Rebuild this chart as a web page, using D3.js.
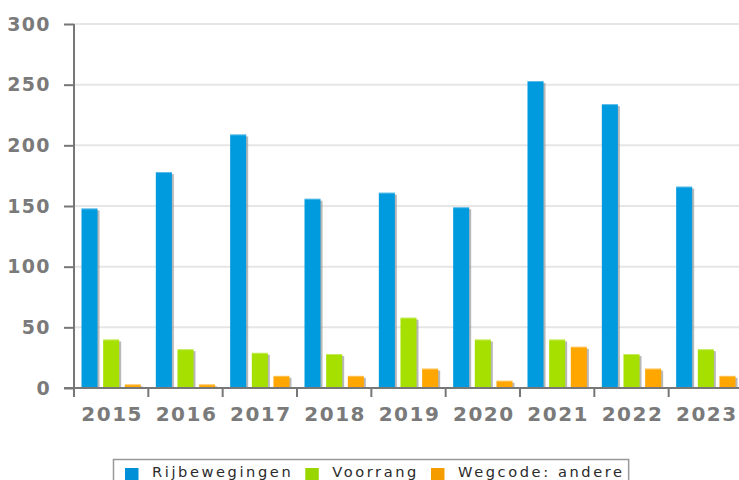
<!DOCTYPE html>
<html><head><meta charset="utf-8">
<script src="https://cdn.jsdelivr.net/npm/d3@7"></script>
<style>html,body{margin:0;padding:0;background:#fff;overflow:hidden}</style>
</head><body>
<svg id="c" width="739" height="480"></svg>
<script>
const categories = ["2015","2016","2017","2018","2019","2020","2021","2022","2023"];
const seriesNames = ["Rijbewegingen","Voorrang","Wegcode: andere"];
const rijbewegingen = [148,178,209,156,161,149,253,234,166];
const voorrang = [40,32,29,28,58,40,40,28,32];
const wegcodeAndere = [3,3,10,10,16,6,34,16,10];
const yTicks = [0,50,100,150,200,250,300];
const colors = ["#009ade","#a6e000","#ffa600"];
const legendColors = ["#0090d8","#99d600","#f59c00"];

(function(){
const series = [rijbewegingen, voorrang, wegcodeAndere];
const svg = d3.select("#c");
const pLeft = 74, pRight = 743, pTop = 24, pBottom = 388;
const x = d3.scaleBand().domain(categories).range([pLeft, pRight]).paddingInner(0).paddingOuter(0);
const x1 = d3.scaleBand().domain(d3.range(3)).range([7.5, x.bandwidth()-7.5]).paddingInner(0.26);
const y = d3.scaleLinear().domain([0,300]).range([pBottom, pTop]);

// gridlines
svg.append("g").selectAll("line").data(yTicks.filter(d=>d>0)).join("line")
  .attr("x1", pLeft).attr("x2", 739).attr("y1", d=>y(d)).attr("y2", d=>y(d))
  .attr("stroke", "#e6e6e6").attr("stroke-width", 2);

// bars
const g = svg.append("g");
series.forEach((vals, si) => {
  const sg = g.append("g");
  sg.selectAll("rect.s").data(vals).join("rect").attr("class","s")
    .attr("x", (d,i)=>x(categories[i]) + x1(si) + 2)
    .attr("y", d=>y(d)+2)
    .attr("width", x1.bandwidth())
    .attr("height", d=>pBottom - y(d) - 2)
    .attr("fill", "#9a9a9a").attr("opacity", 0.7);
  sg.selectAll("rect.b").data(vals).join("rect").attr("class","b")
    .attr("x", (d,i)=>x(categories[i]) + x1(si))
    .attr("y", d=>y(d))
    .attr("width", x1.bandwidth())
    .attr("height", d=>pBottom - y(d))
    .attr("fill", colors[si]);
  sg.selectAll("line.t").data(vals).join("line").attr("class","t")
    .attr("x1", (d,i)=>x(categories[i]) + x1(si))
    .attr("x2", (d,i)=>x(categories[i]) + x1(si) + x1.bandwidth())
    .attr("y1", d=>y(d)+0.5).attr("y2", d=>y(d)+0.5)
    .attr("stroke", "#ffffff").attr("stroke-opacity", 0.35);
});

// y axis
const yAxis = d3.axisLeft(y).tickValues(yTicks).tickSize(10).tickPadding(13);
const ya = svg.append("g").attr("transform", `translate(${pLeft},0)`).call(yAxis);
ya.select(".domain").remove();
ya.selectAll(".tick line").attr("stroke", "#777").attr("stroke-width", 2);
ya.selectAll("text").attr("fill", "#7a7a7a").style("font-family", "DejaVu Sans")
  .style("font-weight", "bold").style("font-size", "19px").style("letter-spacing", "1.4px");
svg.append("line").attr("x1", pLeft).attr("x2", pLeft).attr("y1", pTop).attr("y2", 397)
  .attr("stroke", "#777").attr("stroke-width", 2);

// x axis
svg.append("line").attr("x1", 64).attr("x2", 739).attr("y1", pBottom).attr("y2", pBottom)
  .attr("stroke", "#777").attr("stroke-width", 2);
svg.append("g").selectAll("line").data(categories.slice(1)).join("line")
  .attr("x1", d=>x(d)).attr("x2", d=>x(d)).attr("y1", pBottom).attr("y2", 397)
  .attr("stroke", "#777").attr("stroke-width", 2);
svg.append("g").selectAll("text").data(categories).join("text")
  .attr("x", d=>x(d)+x.bandwidth()/2+1).attr("y", 421)
  .attr("text-anchor", "middle").attr("fill", "#7a7a7a")
  .style("font-family", "DejaVu Sans").style("font-weight", "bold")
  .style("font-size", "20px").style("letter-spacing", "1.5px").text(d=>d);

// legend
const lg = svg.append("g");
const box = lg.append("rect").attr("fill", "#fff").attr("stroke", "#999").attr("stroke-width", 1.5);
let cx = 125;
let lastEnd = 0;
seriesNames.forEach((n, i) => {
  lg.append("rect").attr("x", cx).attr("y", 468).attr("width", 13.5).attr("height", 13.5).attr("fill", legendColors[i]);
  const t = lg.append("text").attr("x", cx + 27).attr("y", 477)
    .style("font-family", "DejaVu Sans").style("font-size", "14.6px").style("letter-spacing", "2.6px")
    .style("font-weight", "500")
    .attr("fill", "#2a2a2a").text(n);
  const w = t.node().getComputedTextLength();
  lastEnd = cx + 27 + w;
  cx = lastEnd + 12;
});
box.attr("x", 113.5).attr("y", 459.5).attr("width", lastEnd + 4 - 113.5).attr("height", 30);
})();
</script>
</body></html>
